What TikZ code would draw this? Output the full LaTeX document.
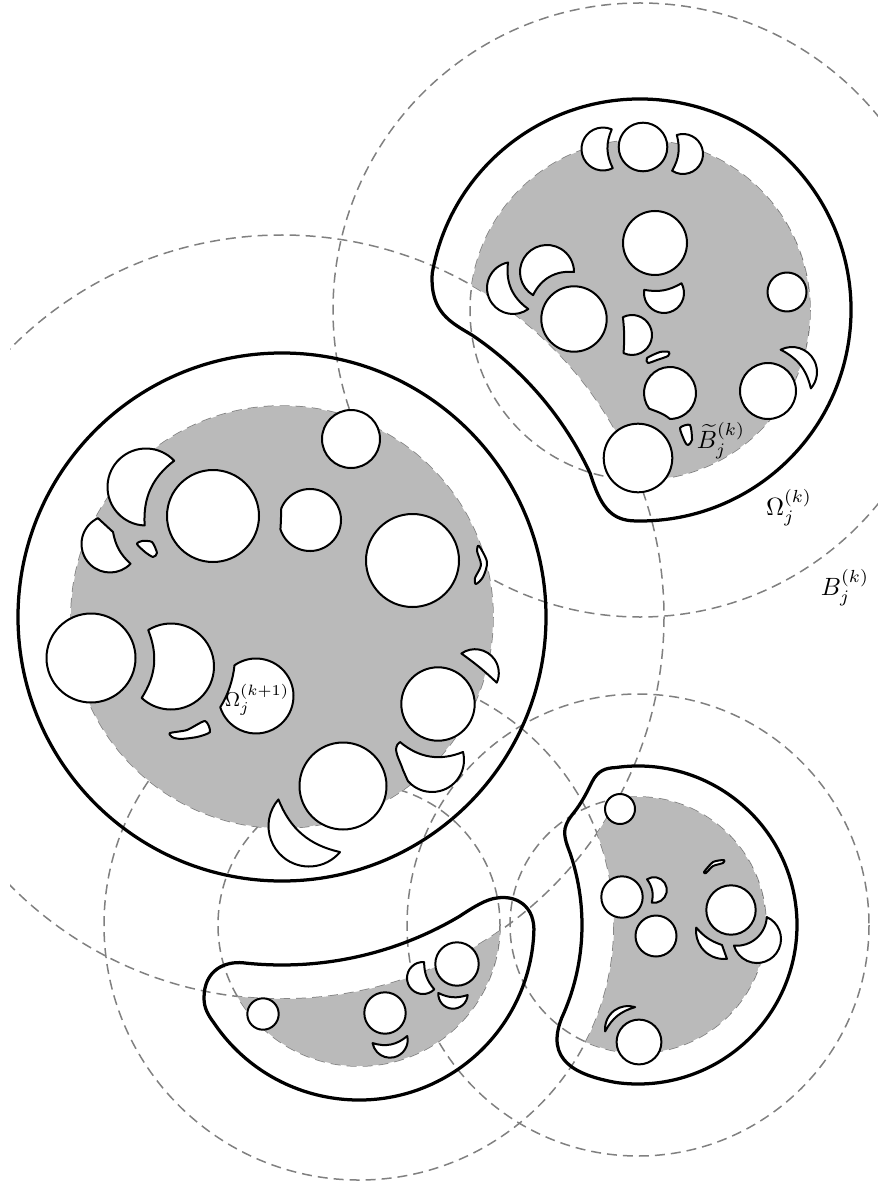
\documentclass[tikz,border=0pt]{standalone}
\usepackage{amsfonts,mathtools,amssymb}
\usetikzlibrary{calc}

\tikzset{
	dashcircle/.style={draw=black!50,semithick,dash pattern=on 4pt off 2.4pt},
	outline/.style={line width=1.3pt,line join=round},
	hole/.style={fill=white,draw=black,thick,line join=round},
}
\newcommand{\drawdiscs}[1]{\foreach \x/\y/\r in {#1} {\draw[hole] (\x,\y) circle[radius=\r];}}
\newcommand{\drawlunes}[1]{\foreach \x/\y/\r/\sa/\ea/\bd in {#1} {
	\draw[hole] ($(\x,\y)+(\sa:\r)$) arc[start angle=\sa,end angle=\ea,radius=\r] to[bend right=\bd] cycle;
}}

\begin{document}
\begin{tikzpicture}[x=0.4pt,y=-0.4pt]
		\useasboundingbox (0,0) rectangle (878,1184);
		
		\coordinate (CA) at (640,310);
		\coordinate (CB) at (282,617);
		\coordinate (CC) at (638,925);
		\coordinate (CD) at (359,925);
		
		% dashed balls
		\begin{scope}
			\clip (10,0) rectangle (878,1184);
			\foreach \c/\rout/\rin in {CA/307/170,CB/382/211,CC/231/128,CD/255/141} {
				\draw[dashcircle] (\c) circle[radius=\rout];
				\draw[dashcircle] (\c) circle[radius=\rin];
			}
		\end{scope}
		
		% grey parts
		\fill[black!27] (CB) circle[radius=211];
		\begin{scope}[even odd rule]
			\clip (CA) circle[radius=170];
			\clip (-100,-100) rectangle (1000,1300) (CB) circle[radius=382];
			\fill[black!27] (CA) circle[radius=170];
		\end{scope}
		\begin{scope}[even odd rule]
			\clip (CD) circle[radius=141];
			\clip (-100,-100) rectangle (1000,1300) (CB) circle[radius=382];
			\fill[black!27] (CD) circle[radius=141];
		\end{scope}
		\begin{scope}[even odd rule]
			\clip (CC) circle[radius=128];
			\clip (-100,-100) rectangle (1000,1300) (CB) circle[radius=382];
			\clip (-100,-100) rectangle (1000,1300) (CD) circle[radius=255];
			\fill[black!27] (CC) circle[radius=128];
		\end{scope}
		
		% thick outlines
		\draw[outline] (CB) circle[radius=264];
		\draw[outline] ($(CA)+(190:211)$) arc[start angle=190,end angle=451,radius=211]
			.. controls (610,521) and (600,505) .. ($(CB)+(-25:340)$)
			arc[start angle=-25,end angle=-56,radius=340]
			.. controls (450,322) and (430,312) .. cycle;
		\draw[outline] ($(CC)+(262:159)$) arc[start angle=262,end angle=458,radius=159]
			.. controls (575,1075) and (545,1060) .. ($(CD)+(24.6:223)$)
			arc[start angle=24.6,end angle=-18.8,radius=223]
			.. controls (563,835) and (562,828) .. (572,815)
			.. controls (582,803) and (588,790) .. (592,782)
			.. controls (598,770) and (606,768) .. cycle;
		\draw[outline] ($(CD)+(146:175)$) arc[start angle=146,end angle=3,radius=175]
			.. controls (536,905) and (515,895) .. (497,898)
			.. controls (487,899) and (475,906) .. ($(CB)+(59.3:348)$)
			arc[start angle=59.3,end angle=96.4,radius=348]
			.. controls (225,961) and (204,970) .. (204,998)
			.. controls (204,1008) and (208,1015) .. cycle;
		
		% holes, top right
		\drawdiscs{643/147/24.3,655/243/32,787/292/19.5,574/319/32.7,768/391/28,638/458/34.3}
		\drawlunes{603/149/21.5/63/294/25,683/154/20/252/483/22,547/272/27/121/360/35,513/288/26/54/259/31,664/293/20/-29/189/20,632/335/20/243/475/5,792/372/25/243/401/25}
		\draw[hole] ($(670,393)+(143:26)$) arc[start angle=143,end angle=450,radius=26] .. controls (663,413) and (655,411) .. cycle;
		\draw[hole] plot[smooth cycle,tension=0.4] coordinates {(647,358) (660,352) (669,352) (668,356) (657,360) (648,363)};
		\draw[hole] plot[smooth cycle,tension=0.4] coordinates {(680,428) (690,425) (692,440) (688,445) (685,442)};
		
		% holes, big ball
		\drawdiscs{351/439/29,213/516/46,412.5/560.5/46.5,91/658/44.5,438/704/36.7,343/786/43.5}
		\drawlunes{146/487/38.5/92/317/28,171/666.5/43/238/493/27,475/673/23.8/235/384/4,309/826/40.5/40/221/28}
		\draw[hole] ($(310,520)+(202:31)$) arc[start angle=202,end angle=522.6,radius=31] .. controls (281,522) and (281,515) .. cycle;
		\draw[hole] ($(256,696)+(235:37.5)$) arc[start angle=235,end angle=522.5,radius=37.5] .. controls (228,695) and (233,680) .. cycle;
		\draw[hole] ($(110,544)+(44:28.5)$) arc[start angle=44,end angle=245,radius=28.5] -- (113,532) to[bend right=18] cycle;
		\draw[hole] ($(432,760)+(-14.5:32)$) arc[start angle=-14.5,end angle=139,radius=32] -- (403,770) .. controls (400,760) and (391,748) .. (400,742) to[bend right=31] cycle;
		\draw[hole] plot[smooth cycle,tension=0.4] coordinates {(137,544) (142,541) (152,542) (157,553) (153,557) (145,552)};
		\draw[hole] plot[smooth cycle,tension=0.4] coordinates {(170,733) (187,730) (205,721) (210,732) (197,737) (180,739) (172,737)};
		\draw[hole] plot[smooth cycle,tension=0.5] coordinates {(479,546) (487,562) (483,577) (476,584) (475,578) (481,565) (477,551)};
		
		% holes, bottom left
		\drawdiscs{263/1014/15.7,385/1013/20.7,457/964/21.7}
		\drawlunes{423/978/16/45/274/20,453/994/14.7/4/184/22,390/1040/17.7/-13/170/29}
		
		% holes, bottom right
		\drawdiscs{620/809/15,622/897/20.7,656/936/20.5,731/910/24.7,639/1042/22.4}
		\drawlunes{654/890/12.8/237/460/24,757/939/24/-66/164/46,628/1029/23/174/288/23}
		\draw[hole] ($(724,931)+(84:28)$) arc[start angle=84,end angle=187,radius=28] to[bend right=15] (722,945) -- cycle;
		\draw[hole] plot[smooth cycle,tension=0.4] coordinates {(704,872) (713,862) (724,860) (723,863) (713,866) (706,873)};
		
		% labels
		\node (omega) at (789,508) {$\Omega_j^{(k)}$};
		\node (ball) at (845,588) {$B_j^{(k)}$};
		\node (ballin) at (721,441) {$\widetilde{B}_j^{(k)}$};
		\node[font=\footnotesize] (omeganext) at (257,700) {$\Omega_j^{(k+1)}$};
\end{tikzpicture}
\end{document}
